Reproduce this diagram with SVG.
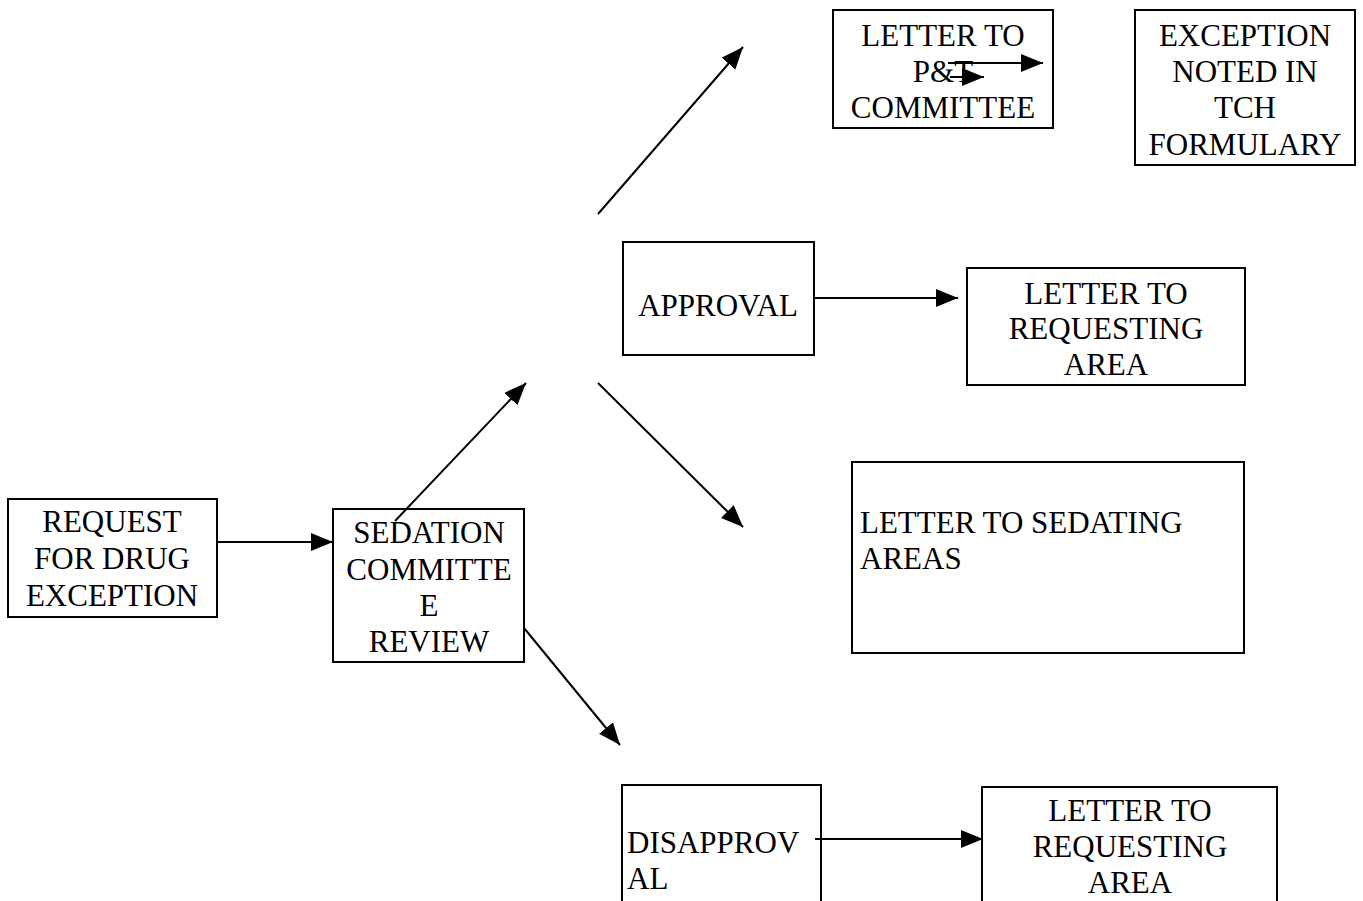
<svg xmlns="http://www.w3.org/2000/svg" width="1363" height="901" viewBox="0 0 1363 901">
<style>
.box{fill:#fff;stroke:#000;stroke-width:2}
.t{font-family:'Liberation Serif','Times New Roman','DejaVu Serif',serif;font-size:31px;fill:#000}
.c{text-anchor:middle}
.ln{stroke:#000;stroke-width:2;fill:none;marker-end:url(#ah)}
</style>
<defs>
<marker id="ah" markerUnits="userSpaceOnUse" markerWidth="24" markerHeight="20" refX="22" refY="9" orient="auto" viewBox="0 0 24 20">
<path d="M0,0 L22,9 L0,18 z" fill="#000"/>
</marker>
</defs>
<rect width="1363" height="901" fill="#fff"/>
<g id="n-request">
<rect class="box" x="8" y="499" width="209" height="118"/>
<text class="t c" x="112" y="532">REQUEST</text>
<text class="t c" x="112" y="569">FOR DRUG</text>
<text class="t c" x="112" y="606">EXCEPTION</text>
</g>
<g id="n-sedation">
<rect class="box" x="333" y="509" width="191" height="153"/>
<text class="t c" x="429" y="543">SEDATION</text>
<text class="t c" x="429" y="580">COMMITTE</text>
<text class="t c" x="429" y="616">E</text>
<text class="t c" x="429" y="652">REVIEW</text>
</g>
<g id="n-approval">
<rect class="box" x="623" y="242" width="191" height="113"/>
<text class="t c" x="718" y="316">APPROVAL</text>
</g>
<g id="n-letter-pt">
<rect class="box" x="833" y="10" width="220" height="118"/>
<text class="t c" x="943" y="46">LETTER TO</text>
<text class="t c" x="943" y="82">P&amp;T</text>
<text class="t c" x="943" y="118">COMMITTEE</text>
</g>
<g id="n-exception">
<rect class="box" x="1135" y="10" width="220" height="155"/>
<text class="t c" x="1245" y="46">EXCEPTION</text>
<text class="t c" x="1245" y="82">NOTED IN</text>
<text class="t c" x="1245" y="118">TCH</text>
<text class="t c" x="1245" y="155">FORMULARY</text>
</g>
<g id="n-letter-req1">
<rect class="box" x="967" y="268" width="278" height="117"/>
<text class="t c" x="1106" y="304">LETTER TO</text>
<text class="t c" x="1106" y="339">REQUESTING</text>
<text class="t c" x="1106" y="375">AREA</text>
</g>
<g id="n-letter-sed">
<rect class="box" x="852" y="462" width="392" height="191"/>
<text class="t" x="860" y="533">LETTER TO SEDATING</text>
<text class="t" x="860" y="569">AREAS</text>
</g>
<g id="n-disapproval">
<rect class="box" x="622" y="785" width="199" height="130"/>
<text class="t" x="627" y="853">DISAPPROV</text>
<text class="t" x="627" y="889">AL</text>
</g>
<g id="n-letter-req2">
<rect class="box" x="982" y="787" width="295" height="130"/>
<text class="t c" x="1130" y="821">LETTER TO</text>
<text class="t c" x="1130" y="857">REQUESTING</text>
<text class="t c" x="1130" y="893">AREA</text>
</g>
<g id="connectors">
<line class="ln" x1="217" y1="542" x2="333" y2="542"/>
<line class="ln" x1="395" y1="521" x2="526" y2="383"/>
<line class="ln" x1="524" y1="628" x2="620" y2="745"/>
<line class="ln" x1="598" y1="214" x2="743" y2="47"/>
<line class="ln" x1="598" y1="383" x2="743" y2="527"/>
<line class="ln" x1="814" y1="298" x2="958" y2="298"/>
<line class="ln" x1="815" y1="839" x2="983" y2="839"/>
<line class="ln" x1="948" y1="63" x2="1043" y2="63"/>
<line class="ln" x1="950" y1="77" x2="984" y2="77"/>
</g>
</svg>
